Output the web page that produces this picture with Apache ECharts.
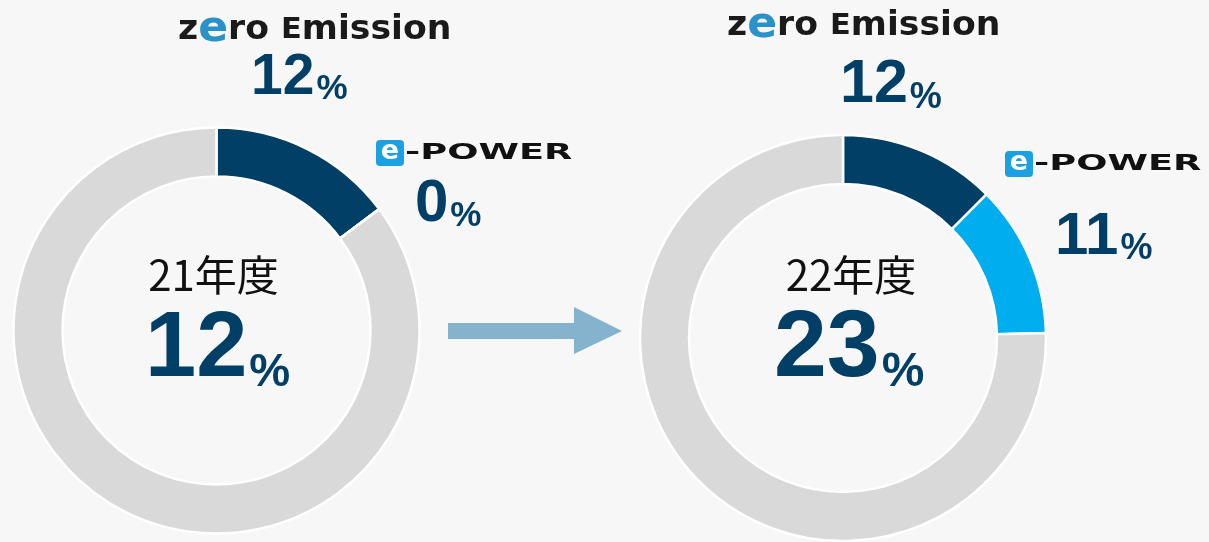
<!DOCTYPE html>
<html>
<head>
<meta charset="utf-8">
<script src="https://cdn.jsdelivr.net/npm/echarts@6/dist/echarts.min.js"></script>
<style>
  html, body { margin: 0; background: #f7f7f7; }
  #chart { width: 1209px; height: 542px; }
</style>
</head>
<body>
<div id="chart"></div>
<script>
// data
const years = ['21年度', '22年度'];
const zeroEmissionPct = [12, 12];
const ePowerPct = [0, 11];
const totalPct = [12, 23];
// ring shares as they are drawn in the picture
const zeroEmissionArc = [14.8, 12.5];
const ePowerArc = [0, 12.1];

const NAVY = '#023f66';
const BLUE = '#00aeef';
const GRAY = '#d9d9d9';
const LOGO_BLUE = '#2a91c9';
const NUM_FONT = '"Liberation Sans", Arial, sans-serif';
const LOGO_FONT = '"DejaVu Sans", sans-serif';

const chart = echarts.init(document.getElementById('chart'));

// ring layout (px)
const centers = [[216.5, 330.5], [843, 338]];

const series = years.map((y, i) => ({
  type: 'pie',
  name: y,
  center: centers[i],
  radius: [154, 203],
  startAngle: 90,
  clockwise: true,
  silent: true,
  animation: false,
  label: { show: false },
  labelLine: { show: false },
  itemStyle: { borderColor: '#ffffff', borderWidth: 2.5 },
  data: [
    { name: 'Zero Emission', value: zeroEmissionArc[i], itemStyle: { color: NAVY } },
    { name: 'e-POWER', value: ePowerArc[i], itemStyle: { color: BLUE } },
    { name: 'other', value: 100 - zeroEmissionArc[i] - ePowerArc[i], itemStyle: { color: GRAY } }
  ]
}));

// number + small "%" on one baseline
function pctText(x, base, num, N, P) {
  return {
    type: 'text',
    x: x,
    y: base + 0.15 * N,
    silent: true,
    style: {
      text: '{n|' + num + '}{p|%}',
      align: 'left',
      verticalAlign: 'bottom',
      rich: {
        n: { fontSize: N, lineHeight: N, fontWeight: 'bold', fontFamily: NUM_FONT, fill: NAVY, verticalAlign: 'bottom' },
        p: { fontSize: P, lineHeight: 0.7 * P + 0.3 * N, fontWeight: 'bold', fontFamily: NUM_FONT, fill: NAVY, verticalAlign: 'bottom', padding: [0, 0, 0, 2] }
      }
    }
  };
}

function zeroLogo(x, base) {
  const tok = { fontSize: 33, fontWeight: 'bold', fontFamily: LOGO_FONT, fill: '#1a1a1a', lineHeight: 40 };
  return {
    type: 'text',
    x: x,
    y: base,
    scaleX: 1.05,
    silent: true,
    style: {
      text: '{a|z}{e|e}{a|ro }{c|E}{a|mission}',
      align: 'left',
      verticalAlign: 'middle',
      rich: {
        a: tok,
        c: Object.assign({}, tok, { fontSize: 29 }),
        e: Object.assign({}, tok, { fontSize: 42, fill: LOGO_BLUE })
      }
    }
  };
}

function ePowerLogo(x, y, w, h) {
  return [
    { type: 'rect', silent: true, shape: { x: x, y: y, width: w, height: h, r: 4 }, style: { fill: '#1ba1e2' } },
    {
      type: 'text', silent: true, x: x + w / 2, y: y + h / 2 - 1,
      style: { text: 'e', fontSize: 27, fontWeight: 'bold', fontFamily: LOGO_FONT, fill: '#ffffff', align: 'center', verticalAlign: 'middle' }
    },
    {
      type: 'text', silent: true, x: x + w + 1, y: y + h / 2 + 1, scaleX: 1.75,
      style: { text: '-POWER', fontSize: 21, fontWeight: 'bold', fontFamily: LOGO_FONT, fill: '#111111', align: 'left', verticalAlign: 'middle' }
    }
  ];
}

function yearText(x, y, t) {
  return {
    type: 'text', silent: true, x: x, y: y,
    style: { text: t, fontSize: 42, fontFamily: '"Noto Sans CJK JP", sans-serif', fill: '#111111', align: 'center', verticalAlign: 'middle' }
  };
}

const graphic = [
  // left ring
  zeroLogo(178, 30),
  pctText(251, 98, zeroEmissionPct[0], 57, 35),
  ...ePowerLogo(376, 140, 28, 26),
  pctText(415, 225, ePowerPct[0], 60, 35),
  yearText(213.5, 275, years[0]),
  pctText(145, 383, totalPct[0], 92, 46),
  // arrow
  {
    type: 'polygon', silent: true,
    shape: { points: [[448, 323], [574, 323], [574, 307], [622, 331], [574, 354], [574, 339], [448, 339]] },
    style: { fill: '#85b3ce' }
  },
  // right ring
  zeroLogo(727, 26),
  pctText(840, 107, zeroEmissionPct[1], 61, 36),
  ...ePowerLogo(1005, 151, 28, 26),
  pctText(1055, 258, ePowerPct[1], 60, 36),
  yearText(851, 275, years[1]),
  pctText(774, 383, totalPct[1], 95, 48)
];

chart.setOption({
  backgroundColor: '#f7f7f7',
  animation: false,
  series: series,
  graphic: graphic
});

window.addEventListener('resize', () => {
  chart.resize();
});
</script>
</body>
</html>
